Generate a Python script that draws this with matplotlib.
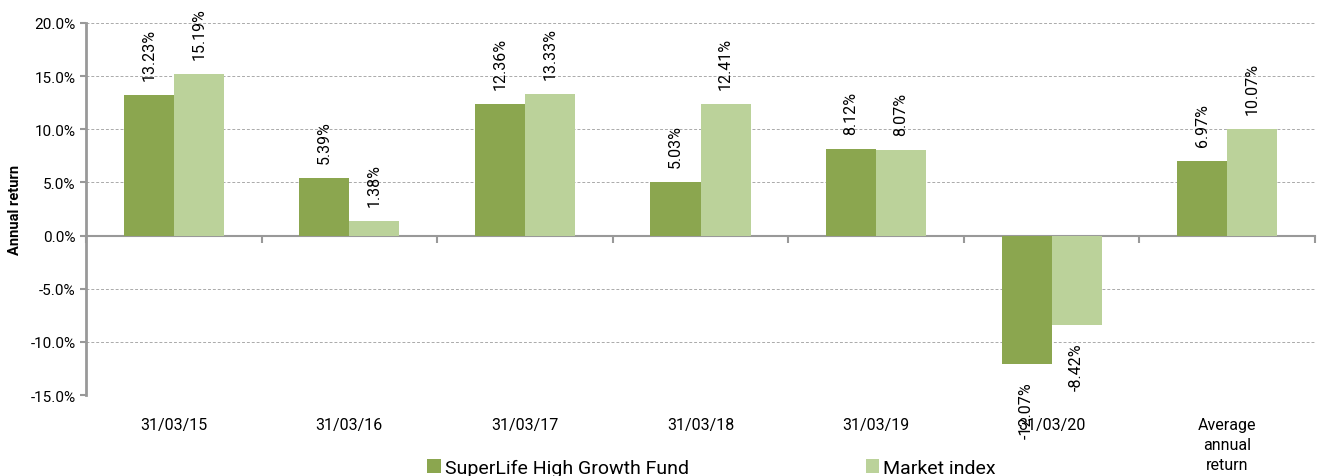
import numpy as np
import matplotlib.pyplot as plt
from matplotlib.transforms import blended_transform_factory, offset_copy

plt.rcParams['font.family'] = ['Roboto', 'DejaVu Sans']

# données
categories = ['31/03/15', '31/03/16', '31/03/17', '31/03/18', '31/03/19',
              '31/03/20', 'Average\nannual\nreturn']
fund = [13.23, 5.39, 12.36, 5.03, 8.12, -12.07, 6.97]
market = [15.19, 1.38, 13.33, 12.41, 8.07, -8.42, 10.07]
series_names = ['SuperLife High Growth Fund', 'Market index']
colors = ['#8BA64F', '#BBD29A']

fig = plt.figure(figsize=(13.17, 4.77), dpi=100)
ax = fig.add_axes([0.0653, 0.1698, 0.9332, 0.7799])

x = np.arange(len(categories))
w = 0.285
bars1 = ax.bar(x - w/2, fund, w, color=colors[0], label=series_names[0], zorder=3)
bars2 = ax.bar(x + w/2, market, w, color=colors[1], label=series_names[1], zorder=3)

# étiquettes de valeur
for bars, vals in ((bars1, fund), (bars2, market)):
    for b, v in zip(bars, vals):
        xc = b.get_x() + b.get_width()/2
        if v >= 0:
            tr = offset_copy(ax.transData, fig=fig, y=15, units='dots')
            ax.text(xc, v, '%.2f%%' % v, rotation=90, ha='center', va='bottom',
                    fontsize=11.5, transform=tr)
        else:
            tr = offset_copy(ax.transData, fig=fig, y=-17, units='dots')
            ax.text(xc, v, '%.2f%%' % v, rotation=90, ha='center', va='top',
                    fontsize=11.5, transform=tr)

ax.set_xlim(-0.5, len(categories) - 0.5)
ax.set_ylim(-15, 20)
ax.set_yticks(np.arange(-15, 21, 5))
ax.set_yticklabels(['%.1f%%' % t for t in np.arange(-15, 21, 5)], fontsize=11)
ax.yaxis.grid(True, linestyle=(0, (3, 2)), color='#AAAAAA', linewidth=0.7, zorder=0)

# axe x sur zéro
ax.spines['bottom'].set_position(('data', 0))
ax.spines['bottom'].set_color('#999999')
ax.spines['bottom'].set_linewidth(1.5)
ax.spines['left'].set_color('#999999')
ax.spines['left'].set_linewidth(2)
ax.spines['top'].set_visible(False)
ax.spines['right'].set_visible(False)
ax.set_xticks(np.arange(len(categories) + 1) - 0.5)
ax.set_xticklabels([])
ax.tick_params(axis='x', direction='out', length=5, width=1.5, color='#999999')
ax.tick_params(axis='y', direction='out', length=4, width=1.5, color='#999999')

trans = blended_transform_factory(ax.transData, ax.transAxes)
for xi, c in zip(x, categories):
    ax.text(xi, -0.06, c, ha='center', va='top', fontsize=11.5,
            linespacing=1.4, transform=trans)

ax.set_ylabel('Annual return', fontsize=10.5, fontweight='bold', labelpad=6)

fig.legend(loc='lower left', bbox_to_anchor=(0.311, -0.038), ncol=2,
           frameon=False, fontsize=14, handlelength=0.7, handleheight=0.7,
           handletextpad=0.2, columnspacing=9.1)

plt.savefig('out.png', dpi=100)
